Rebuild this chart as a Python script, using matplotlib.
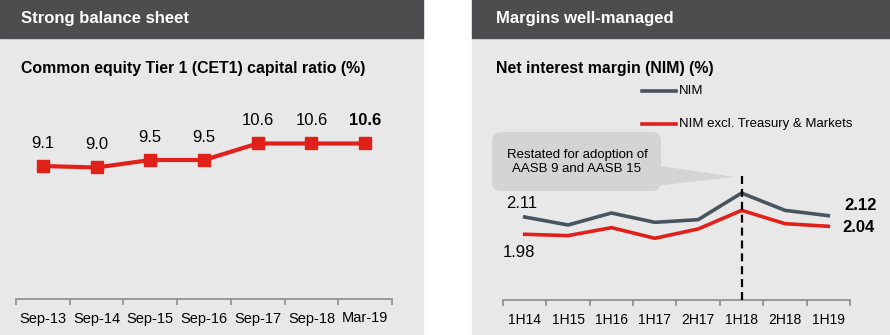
import matplotlib.pyplot as plt
from matplotlib.patches import Rectangle, FancyBboxPatch, Polygon
from matplotlib.lines import Line2D

plt.rcParams['font.family'] = ['Liberation Sans', 'DejaVu Sans']

# CET1 capital ratio (%)
cet1_periods = ['Sep-13', 'Sep-14', 'Sep-15', 'Sep-16', 'Sep-17', 'Sep-18', 'Mar-19']
cet1_ratio = [9.1, 9.0, 9.5, 9.5, 10.6, 10.6, 10.6]

# Net interest margin (%)
nim_periods = ['1H14', '1H15', '1H16', '1H17', '2H17', '1H18', '2H18', '1H19']
nim = [2.11, 2.05, 2.14, 2.07, 2.09, 2.29, 2.16, 2.12]
nim_excl_tm = [1.98, 1.97, 2.03, 1.95, 2.02, 2.16, 2.06, 2.04]
restated_from = '1H18'

RED = '#e2201a'
SLATE = '#47555f'
HEADER = '#4d4d4f'
PANEL = '#e8e8e8'

W, H = 890, 335
fig = plt.figure(figsize=(W / 100, H / 100), dpi=100)
fig.patch.set_facecolor('white')


def fx(x):
    return x / W


def fy(y):
    return 1 - y / H


def inch(x, y):
    return x / 100, (H - y) / 100


# panel backgrounds and header bars
for x0, x1 in [(0, 423), (472, 890)]:
    fig.add_artist(Rectangle((fx(x0), 0), fx(x1) - fx(x0), fy(38),
                             transform=fig.transFigure, color=PANEL, zorder=0))
    fig.add_artist(Rectangle((fx(x0), fy(38)), fx(x1) - fx(x0), 38 / H,
                             transform=fig.transFigure, color=HEADER, zorder=0))

fig.text(fx(21), fy(18), 'Strong balance sheet', color='white', fontsize=12,
         fontweight='bold', va='center')
fig.text(fx(496), fy(18), 'Margins well-managed', color='white', fontsize=12,
         fontweight='bold', va='center')
fig.text(fx(21), fy(68), 'Common equity Tier 1 (CET1) capital ratio (%)',
         fontsize=11.4, fontweight='bold', va='center')
fig.text(fx(496), fy(68), 'Net interest margin (NIM) (%)',
         fontsize=11.4, fontweight='bold', va='center')


def style_axis(ax, n, size):
    ax.set_facecolor('none')
    for s in ['left', 'top', 'right']:
        ax.spines[s].set_visible(False)
    ax.spines['bottom'].set_color('#8c8c8c')
    ax.spines['bottom'].set_linewidth(1.2)
    ax.set_yticks([])
    ax.set_xlim(-0.5, n - 0.5)
    ax.set_xticks(range(n))
    ax.set_xticks([i - 0.5 for i in range(n + 1)], minor=True)
    ax.tick_params(axis='x', which='major', length=0, pad=9, labelsize=size)
    ax.tick_params(axis='x', which='minor', length=4, width=1.2,
                   color='#8c8c8c')


# left: CET1 ratio
ax1 = fig.add_axes([fx(16), fy(299), fx(392) - fx(16), (299 - 130) / H])
style_axis(ax1, len(cet1_periods), 10.5)
ax1.set_xticklabels(cet1_periods)
ax1.set_ylim(0.233, 11.5)
x1 = range(len(cet1_periods))
ax1.plot(x1, cet1_ratio, color=RED, lw=3, marker='s', ms=9, clip_on=False)
for i, v in enumerate(cet1_ratio):
    last = i == len(cet1_ratio) - 1
    ax1.annotate(f'{v:.1f}', (i, v), xytext=(0, 16.5), textcoords='offset points',
                 ha='center', va='center', fontsize=12,
                 fontweight='bold' if last else 'normal')

# right: NIM
ax2 = fig.add_axes([fx(503), fy(300), (850 - 503) / W, (300 - 130) / H])
style_axis(ax2, len(nim_periods), 10)
ax2.set_xticklabels(nim_periods)
ax2.set_ylim(1.486, 2.764)
x2 = range(len(nim_periods))
ax2.plot(x2, nim, color=SLATE, lw=2.6, clip_on=False)
ax2.plot(x2, nim_excl_tm, color=RED, lw=2.6, clip_on=False)

xr = nim_periods.index(restated_from)
ax2.vlines(xr, 1.486, 2.43, colors='black', lw=1.6,
           linestyles=(0, (3.6, 2.2)), zorder=3)

ax2.annotate(f'{nim[0]:.2f}', (0, nim[0]), xytext=(-2, 9.5),
             textcoords='offset points', ha='center', va='center', fontsize=12)
ax2.annotate(f'{nim_excl_tm[0]:.2f}', (0, nim_excl_tm[0]), xytext=(-4, -13),
             textcoords='offset points', ha='center', va='center', fontsize=12)
ax2.annotate(f'{nim[-1]:.2f}', (len(nim) - 1, nim[-1]), xytext=(11.5, 7),
             textcoords='offset points', ha='left', va='center', fontsize=12,
             fontweight='bold')
ax2.annotate(f'{nim_excl_tm[-1]:.2f}', (len(nim) - 1, nim_excl_tm[-1]),
             xytext=(10, -0.5), textcoords='offset points', ha='left', va='center',
             fontsize=12, fontweight='bold')

# legend
for y, c, lab in [(91, SLATE, 'NIM'), (124, RED, 'NIM excl. Treasury & Markets')]:
    fig.add_artist(Line2D([fx(642), fx(676)], [fy(y), fy(y)], color=c, lw=2.6,
                          transform=fig.transFigure))
    fig.text(fx(679), fy(y), lab, fontsize=9.5, va='center')

# callout box
bx0, by0 = inch(492, 191)
bx1, by1 = inch(661, 132)
box = FancyBboxPatch((bx0, by0), bx1 - bx0, by1 - by0,
                     boxstyle='round,pad=0,rounding_size=0.09',
                     transform=fig.dpi_scale_trans, fc='#d4d4d4', ec='none',
                     zorder=1)
fig.add_artist(box)
tail = Polygon([inch(655, 165), inch(655, 186), inch(734, 177)], closed=True,
               transform=fig.dpi_scale_trans, fc='#d4d4d4', ec='none', zorder=1)
fig.add_artist(tail)
fig.text(fx(577), fy(162), 'Restated for adoption of\nAASB 9 and AASB 15',
         fontsize=9.5, ha='center', va='center', linespacing=1.25, zorder=2)

fig.savefig('out.png', dpi=100)
